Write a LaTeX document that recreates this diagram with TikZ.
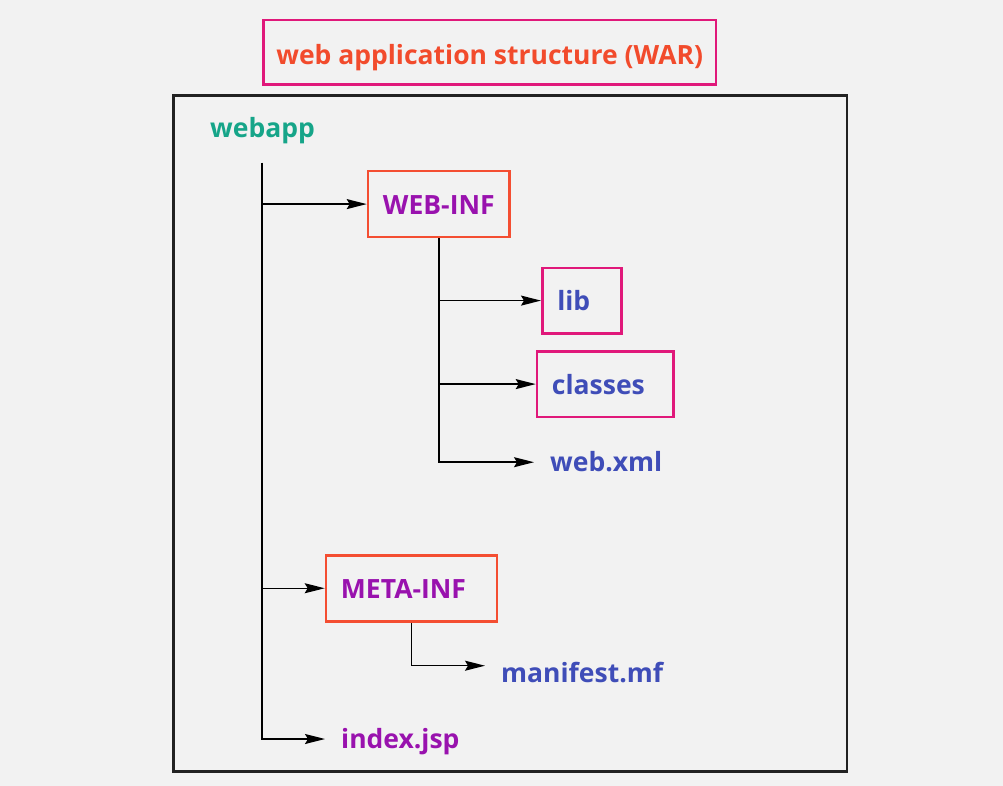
\documentclass[tikz,border=0pt]{standalone}
\usepackage{fontspec}
\setmainfont{Open Sans}
\usetikzlibrary{arrows.meta}
\definecolor{bg}{HTML}{F2F2F2}
\definecolor{titlecol}{HTML}{F24B2C}
\definecolor{pinkcol}{HTML}{E0187A}
\definecolor{orangecol}{HTML}{F44E32}
\definecolor{purplecol}{HTML}{9912AE}
\definecolor{bluecol}{HTML}{3F4DB8}
\definecolor{tealcol}{HTML}{16A589}
\definecolor{framecol}{HTML}{222222}
\tikzset{
  lbl/.style={font=\fontsize{26.5}{30}\selectfont\bfseries},
  folderbox/.style={lbl, draw, line width=2.5pt, anchor=north west, inner xsep=15pt, inner ysep=0pt,
     text height=19.9pt, text depth=0pt},
  leaf/.style={lbl, anchor=west, inner xsep=16pt, inner ysep=0pt, text height=19.1pt, text depth=0pt},
  conn/.style={line width=1.5pt, black, -{Stealth[length=20pt,width=10pt,inset=3pt]}},
}
\begin{document}
\begin{tikzpicture}[x=1pt,y=-1pt]
\useasboundingbox (0,0) rectangle (1003,786);
\fill[bg] (0,0) rectangle (1003,786);
% title
\node[lbl, draw=pinkcol, text=titlecol, line width=2.5pt, minimum width=452.7pt, minimum height=64.3pt,
      inner sep=0pt, text height=24.6pt, text depth=0pt] (title) at (489.7,52.2) {web application structure (WAR)};
% frame
\draw[framecol, line width=2.5pt] (173.3,95.5) rectangle (847,771.7);
% root
\node[lbl, text=tealcol, anchor=base west, inner sep=0pt] (webapp) at (210,137.7) {webapp};
\coordinate (t1) at (262,162.7);
% folders
\node[folderbox, draw=orangecol, text=purplecol, minimum width=141.6pt, minimum height=65.7pt] (webinf) at (366.7,170) {\makebox[111.6pt][l]{WEB-INF}};
\node[folderbox, draw=pinkcol, text=bluecol, minimum width=79pt, minimum height=65.3pt] (lib) at (541,266.7) {\makebox[49pt][l]{lib}};
\node[folderbox, draw=pinkcol, text=bluecol, minimum width=136.6pt, minimum height=65.7pt] (classes) at (535.7,350) {\makebox[106.6pt][l]{classes}};
\node[folderbox, draw=orangecol, text=purplecol, minimum width=171pt, minimum height=66pt] (metainf) at (324.7,554) {\makebox[141pt][l]{META-INF}};
% files
\node[leaf, text=bluecol] (webxml) at (534,462.2) {web.xml};
\node[leaf, text=bluecol] (manifest) at (485,673.2) {manifest.mf};
\node[leaf, text=purplecol] (indexjsp) at (325,739) {index.jsp};
% connectors
\draw[conn] (t1) |- (indexjsp.west);
\draw[conn] (t1 |- webinf.west) -- (webinf.west);
\draw[conn] (t1 |- metainf.west) -- (metainf.west);
\draw[conn] (webinf.south) |- (webxml.west);
\draw[conn] (webinf.south |- lib.west) -- (lib.west);
\draw[conn] (webinf.south |- classes.west) -- (classes.west);
\draw[conn] (metainf.south) |- ([yshift=7.5pt]manifest.west);
\end{tikzpicture}
\end{document}
